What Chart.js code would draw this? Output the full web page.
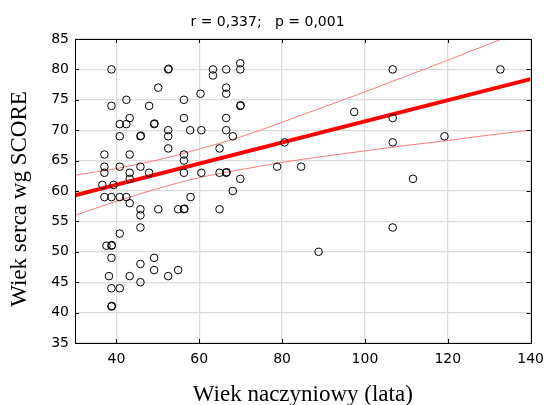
<!DOCTYPE html>
<html>
<head>
<meta charset="utf-8">
<script src="https://cdn.jsdelivr.net/npm/chart.js@4/dist/chart.umd.min.js"></script>
<style>
html,body{margin:0;padding:0;background:#fff;}
#wrap{width:552px;height:405px;}
</style>
</head>
<body>
<div id="wrap"><canvas id="c" width="552" height="405"></canvas></div>
<script>
// ---- data ----
const titleText = 'r = 0,337;   p = 0,001';
const xAxisTitle = 'Wiek naczyniowy (lata)';
const yAxisTitle = 'Wiek serca wg SCORE';

// observations: vascular age (x) and SCORE heart age (y)
const vascularAge = [
  38.8, 52.5, 52.6, 50.1, 38.8, 42.4, 47.9, 56.3, 60.3, 40.8,
  42.4, 43.2, 49.1, 49.2, 52.5, 52.5, 52.5, 56.3, 57.8, 40.8,
  45.8, 45.9, 37.1, 43.2, 37.1, 37.1, 40.8, 45.8, 43.2, 43.2,
  47.9, 56.3, 56.3, 56.3, 36.6, 39.3, 60.5, 37.1, 38.8, 40.8,
  42.4, 43.2, 45.8, 45.8, 45.8, 50.1, 54.9, 56.3, 56.4, 57.9,
  40.8, 37.6, 38.8, 38.9, 38.8, 38.2, 38.8, 40.8, 38.8, 38.9,
  43.2, 45.8, 45.8, 49.1, 49.1, 52.5, 54.9, 63.3, 63.3, 66.5,
  69.9, 69.9, 66.5, 66.5, 69.9, 70.0, 66.5, 60.5, 66.5, 68.1,
  64.9, 80.6, 64.9, 66.5, 66.6, 69.9, 68.1, 78.8, 84.6, 64.9,
  106.7, 132.7, 97.4, 106.7, 106.7, 119.2, 111.6, 106.7, 88.8
];
const scoreAge = [
  80, 80, 80.1, 77, 74, 75, 74, 75, 76, 71,
  71, 72, 71, 71.1, 70, 69, 67, 72, 70, 69,
  69, 69.1, 66, 66, 64, 63, 64, 64, 63, 62,
  63, 66, 65, 63, 61, 61, 63, 59, 59, 59,
  59, 58, 57, 56, 54, 57, 57, 57, 57.1, 59,
  53, 51, 51, 51.1, 49, 46, 44, 44, 41, 41.1,
  46, 48, 45, 49, 47, 46, 47, 80, 79, 80,
  81, 80, 77, 76, 74, 74.1, 72, 70, 70, 69,
  67, 68, 63, 63, 63.1, 62, 60, 64, 64, 57,
  80, 80, 73, 72, 68, 69, 62, 54, 50
];

// fitted regression line (end points)
const fitX = [30, 140];
const fitY = [59.3, 78.4];

// 95% confidence band, read at these x positions
const bandX = [30, 40, 50, 60, 70, 80, 90, 100, 110, 120, 130, 140];
const upperBand = [62.6, 63.7, 65.1, 66.9, 68.9, 71.3, 73.8, 76.3, 78.9, 81.5, 84.2, 86.8];
const lowerBand = [56.0, 58.3, 60.4, 62.2, 63.5, 64.7, 65.7, 66.6, 67.5, 68.3, 69.2, 70.0];

// axes
const xRange = [30, 140];
const yRange = [35, 85];
const xTickValues = [40, 60, 80, 100, 120, 140];
const yTickValues = [35, 40, 45, 50, 55, 60, 65, 70, 75, 80, 85];

// ---- build chart ----
const pts = vascularAge.map((x, i) => ({x: x, y: scoreAge[i]}));
const fitPts = fitX.map((x, i) => ({x: x, y: fitY[i]}));
const upPts = bandX.map((x, i) => ({x: x, y: upperBand[i]}));
const loPts = bandX.map((x, i) => ({x: x, y: lowerBand[i]}));

const tickFont = {family: '"DejaVu Sans", sans-serif', size: 14};
const serifFamily = '"Liberation Serif", "Times New Roman", serif';
const serifFont = {family: serifFamily, size: 23};

const framePlugin = {
  id: 'frame',
  afterDraw(chart) {
    const ctx = chart.ctx;
    const a = chart.chartArea;
    const xs = chart.scales.x, ys = chart.scales.y;
    ctx.save();
    ctx.strokeStyle = '#000';
    ctx.lineWidth = 1;
    ctx.beginPath();
    xTickValues.forEach(v => {
      const px = Math.round(xs.getPixelForValue(v)) + 0.5;
      ctx.moveTo(px, a.bottom); ctx.lineTo(px, a.bottom - 4);
      ctx.moveTo(px, a.top); ctx.lineTo(px, a.top + 4);
    });
    yTickValues.forEach(v => {
      const py = Math.round(ys.getPixelForValue(v)) + 0.5;
      ctx.moveTo(a.left, py); ctx.lineTo(a.left + 4, py);
      ctx.moveTo(a.right, py); ctx.lineTo(a.right - 4, py);
    });
    ctx.stroke();
    ctx.strokeRect(Math.round(a.left) + 0.5, Math.round(a.top) + 0.5,
                   Math.round(a.right - a.left), Math.round(a.bottom - a.top));
    // vertical axis title (placed slightly below the axis centre, as in the reference)
    ctx.translate(19.5, (a.top + a.bottom) / 2 + 8);
    ctx.rotate(-Math.PI / 2);
    ctx.fillStyle = '#000';
    ctx.font = '23px ' + serifFamily;
    ctx.textAlign = 'center';
    ctx.textBaseline = 'middle';
    ctx.fillText(yAxisTitle, 0, 0);
    ctx.restore();
  }
};

new Chart(document.getElementById('c'), {
  type: 'scatter',
  data: {
    datasets: [
      {
        data: pts,
        pointRadius: 3.8,
        pointBorderWidth: 1,
        borderColor: '#000',
        backgroundColor: 'rgba(0,0,0,0)',
        showLine: false
      },
      {
        data: fitPts,
        showLine: true,
        borderColor: '#ff0000',
        borderWidth: 4,
        pointRadius: 0
      },
      {
        data: upPts,
        showLine: true,
        borderColor: '#ff7a7a',
        borderWidth: 1,
        pointRadius: 0,
        cubicInterpolationMode: 'monotone'
      },
      {
        data: loPts,
        showLine: true,
        borderColor: '#ff7a7a',
        borderWidth: 1,
        pointRadius: 0,
        cubicInterpolationMode: 'monotone'
      }
    ]
  },
  options: {
    responsive: false,
    animation: false,
    events: [],
    layout: {padding: {left: 0, right: 17, top: 0, bottom: 0}},
    plugins: {
      legend: {display: false},
      tooltip: {enabled: false},
      title: {
        display: true,
        text: titleText,
        color: '#000',
        font: {family: '"DejaVu Sans", sans-serif', size: 14, weight: 'normal', lineHeight: 1.2},
        padding: {top: 13.6, bottom: 8.6}
      }
    },
    scales: {
      x: {
        type: 'linear',
        min: xRange[0],
        max: xRange[1],
        afterBuildTicks(scale) { scale.ticks = xTickValues.map(v => ({value: v})); },
        afterFit(scale) { scale.height = 62; },
        border: {display: false},
        grid: {color: '#dcdcdc', lineWidth: 1.3, drawTicks: false},
        ticks: {color: '#000', font: tickFont, padding: 8, maxRotation: 0, autoSkip: false},
        title: {
          display: true,
          text: xAxisTitle,
          color: '#000',
          font: Object.assign({lineHeight: 0.85}, serifFont),
          padding: {top: 0, bottom: 0}
        }
      },
      y: {
        type: 'linear',
        min: yRange[0],
        max: yRange[1],
        afterBuildTicks(scale) { scale.ticks = yTickValues.map(v => ({value: v})); },
        afterFit(scale) { scale.width = 75; },
        border: {display: false},
        grid: {color: '#dcdcdc', lineWidth: 1.3, drawTicks: false},
        ticks: {color: '#000', font: tickFont, padding: 6, autoSkip: false},
        title: {display: false}
      }
    }
  },
  plugins: [framePlugin]
});
</script>
</body>
</html>
